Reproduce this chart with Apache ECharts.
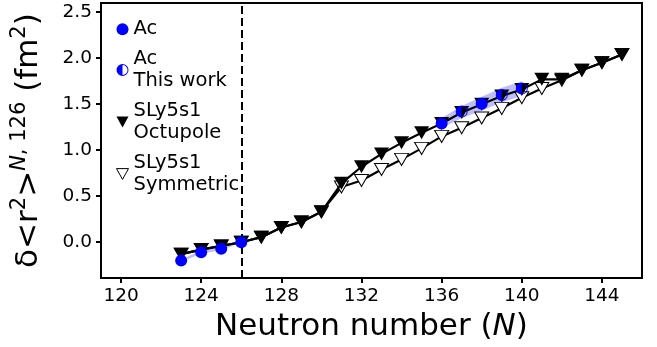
<!DOCTYPE html>
<html>
<head>
<meta charset="utf-8">
<script src="https://cdn.jsdelivr.net/npm/echarts@6/dist/echarts.min.js"></script>
<style>html,body{margin:0;padding:0;background:#fff}#c{width:657px;height:347px}</style>
</head>
<body>
<div id="c"></div>
<script>
const neutrons = [123,124,125,126,127,128,129,130,131,132,133,134,135,136,137,138,139,140,141,142,143,144,145];
const octupole = [-0.13,-0.08,-0.04,0.0,0.055,0.16,0.22,0.33,0.64,0.82,0.96,1.08,1.19,1.29,1.41,1.50,1.59,1.66,1.77,1.77,1.87,1.95,2.04];
const symmetric = [-0.13,-0.08,-0.04,0.0,0.055,0.16,0.22,0.33,0.60,0.67,0.79,0.90,1.02,1.15,1.245,1.35,1.455,1.57,1.67,1.76,1.87,1.95,2.04];
const acN = [123,124,125,126,136,138];
const acVal = [-0.20,-0.108,-0.072,0.0,1.29,1.505];
const workN = [137,139,140];
const workVal = [1.42,1.60,1.67];
const bandN = [136,137,138,139,140];
const bandLo = [1.24,1.35,1.43,1.52,1.59];
const bandHi = [1.35,1.48,1.58,1.68,1.75];
const band2N = [123,124,125,126];
const band2Lo = [-0.215,-0.123,-0.087,-0.004];
const band2Hi = [-0.185,-0.093,-0.057,0.004];
const xTicks = [120,124,128,132,136,140,144];
const yTicks = [0.0,0.5,1.0,1.5,2.0,2.5];
const refN = 126;

const FONT = 'DejaVu Sans';
const downTri = 'path://M0,0L10,0L5,9Z';
const halfCircle = 'path://M10,0A10,10,0,0,0,10,20Z M10,0A10,10,0,0,1,10,20L10,18.4A8.4,8.4,0,0,0,10,1.6Z';

function zip(a,b){return a.map((v,i)=>[v,b[i]]);}
function bandSeries(ns, lo, hi){
  return {
    type:'custom', silent:true, z:1,
    data:[0],
    renderItem:function(params, api){
      const pts = [];
      for(let i=0;i<ns.length;i++) pts.push(api.coord([ns[i], hi[i]]));
      for(let i=ns.length-1;i>=0;i--) pts.push(api.coord([ns[i], lo[i]]));
      return {type:'polygon', shape:{points:pts}, style:{fill:'rgba(40,40,255,0.3)', stroke:'none'}};
    }
  };
}

const chart = echarts.init(document.getElementById('c'), null, {renderer:'canvas'});
chart.setOption({
  animation:false,
  backgroundColor:'#fff',
  textStyle:{fontFamily:FONT},
  grid:{left:101, right:15, top:3, bottom:68, show:true, borderColor:'#000', borderWidth:2, backgroundColor:'transparent'},
  legend:{
    orient:'vertical', left:111, top:13, itemGap:7, itemWidth:12, itemHeight:12,
    textStyle:{fontFamily:FONT, fontSize:19.5, lineHeight:22.5, color:'#000'},
    data:[
      {name:'Ac', icon:'circle', itemStyle:{color:'#0000ff', opacity:1}},
      {name:'Ac\nThis work', icon:halfCircle, itemStyle:{color:'#0000ff', opacity:1}},
      {name:'SLy5s1\nOctupole', icon:downTri, itemStyle:{color:'#000'}},
      {name:'SLy5s1\nSymmetric', icon:downTri, itemStyle:{color:'#fff', borderColor:'#000', borderWidth:1}}
    ]
  },
  xAxis:{
    type:'value', min:119, max:146,
    name:'{a|Neutron number (}{i|N}{a|)}', nameLocation:'middle', nameGap:31,
    nameTextStyle:{rich:{a:{fontFamily:FONT,fontSize:31,color:'#000'}, i:{fontFamily:FONT,fontSize:31,fontStyle:'italic',color:'#000'}}},
    axisLine:{show:true, onZero:false, lineStyle:{color:'#000', width:2}},
    axisTick:{show:true, inside:false, length:5, lineStyle:{color:'#000', width:2}, customValues:xTicks},
    axisLabel:{customValues:xTicks, fontFamily:FONT, fontSize:18.5, color:'#000', margin:9},
    splitLine:{show:false}
  },
  yAxis:{
    type:'value', min:-0.39, max:2.6,
    name:'{a|δ<r}{s|2}{a|>}{si|N}{s|, 126}{a| (fm}{s|2}{a|)}', nameLocation:'middle', nameRotate:90, nameGap:52,
    nameTextStyle:{rich:{
      a:{fontFamily:FONT,fontSize:31,color:'#000',lineHeight:40},
      s:{fontFamily:FONT,fontSize:21,color:'#000',verticalAlign:'top',padding:[0,0,12,0]},
      si:{fontFamily:FONT,fontSize:21,fontStyle:'italic',color:'#000',verticalAlign:'top',padding:[0,0,12,0]}
    }},
    axisLine:{show:true, onZero:false, lineStyle:{color:'#000', width:2}},
    axisTick:{show:true, inside:false, length:5, lineStyle:{color:'#000', width:2}, customValues:yTicks},
    axisLabel:{customValues:yTicks, fontFamily:FONT, fontSize:18.5, color:'#000', margin:9, formatter:v=>v.toFixed(1)},
    splitLine:{show:false}
  },
  series:[
    bandSeries(bandN, bandLo, bandHi),
    bandSeries(band2N, band2Lo, band2Hi),
    {
      name:'SLy5s1\nSymmetric', type:'line', z:3, data:zip(neutrons, symmetric),
      symbol:downTri, symbolSize:[14,12], symbolKeepAspect:false,
      lineStyle:{color:'#000', width:2.2},
      itemStyle:{color:'#fff', borderColor:'#000', borderWidth:1},
      markLine:{silent:true, symbol:'none', label:{show:false},
        lineStyle:{color:'#000', width:2, type:[8,4]}, data:[{xAxis:refN}]}
    },
    {
      name:'SLy5s1\nOctupole', type:'line', z:4, data:zip(neutrons, octupole),
      symbol:downTri, symbolSize:[15,13], symbolKeepAspect:false,
      lineStyle:{color:'#000', width:2.2},
      itemStyle:{color:'#000', borderColor:'#000', borderWidth:0}
    },
    {
      name:'Ac', type:'scatter', z:5, data:zip(acN, acVal),
      symbol:'circle', symbolSize:12, itemStyle:{color:'#0000ff', opacity:1}
    },
    {
      name:'Ac\nThis work', type:'scatter', z:5, data:zip(workN, workVal),
      symbol:halfCircle, symbolSize:12, itemStyle:{color:'#0000ff', opacity:1}
    }
  ]
});
</script>
</body>
</html>
